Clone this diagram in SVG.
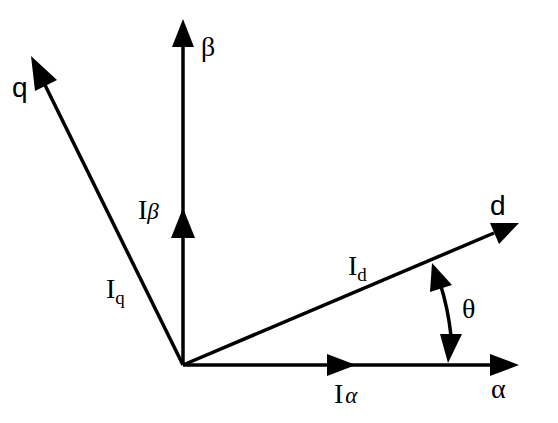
<svg xmlns="http://www.w3.org/2000/svg" width="558" height="423" viewBox="0 0 558 423">
<style>
.ax{stroke:#000;stroke-width:3.5;fill:none}
.hd{fill:#000}
.sans{font-family:"Liberation Sans",Arial,sans-serif;fill:#000}
.serif{font-family:"Liberation Serif","Times New Roman",serif;fill:#000}
</style>
<rect width="558" height="423" fill="#fff"/>
<g id="connectors">
<line class="ax" x1="183" y1="365" x2="183" y2="44"/>
<polygon class="hd" points="183,19 172,47 194,47"/>
<polygon class="hd" points="183,208 171,238 195,238"/>
<line class="ax" x1="183" y1="365" x2="493" y2="365"/>
<polygon class="hd" points="519,365 490,354 490,376"/>
<polygon class="hd" points="356,365 327,354 327,376"/>
<line class="ax" x1="183" y1="365" x2="44" y2="83"/>
<polygon class="hd" points="31,56 35,91 57,80"/>
<line class="ax" x1="183" y1="365" x2="494" y2="233"/>
<polygon class="hd" points="519,223 490,223 499,244"/>
<path class="ax" d="M440,283 A265,265 0 0,1 451,336"/>
<polygon class="hd" points="432,263 430,292 452,285"/>
<polygon class="hd" points="448,363 440,334 462,334"/>
</g>
<g id="labels">
<text class="serif" x="201" y="56" font-size="28">β</text>
<text class="sans" x="12" y="97" font-size="28">q</text>
<text class="sans" x="490" y="215" font-size="28">d</text>
<text class="serif" x="138" y="219" font-size="28">I<tspan font-style="italic" font-size="23">β</tspan></text>
<text class="serif" x="106" y="298" font-size="28">I<tspan font-size="19" dy="6">q</tspan></text>
<text class="serif" x="348" y="275" font-size="28">I<tspan font-size="19" dy="6">d</tspan></text>
<text class="serif" x="462" y="318" font-size="28">θ</text>
<text class="serif" x="334" y="403" font-size="28">I<tspan font-style="italic" font-size="23" dx="2">α</tspan></text>
<text class="serif" x="491" y="398" font-size="28">α</text>
</g>
</svg>
